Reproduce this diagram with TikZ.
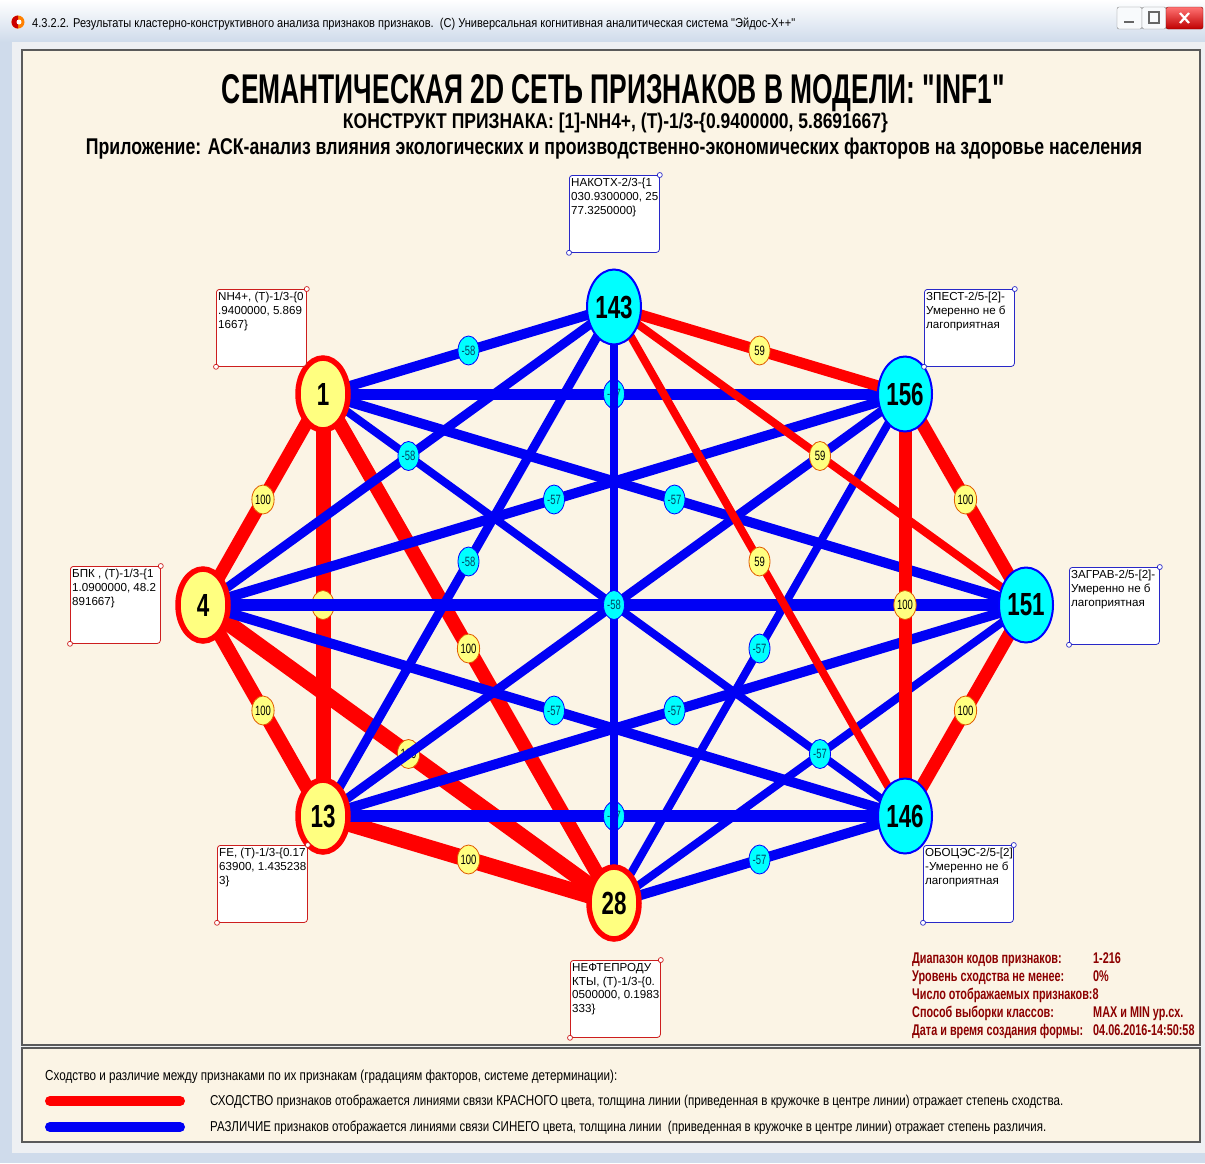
\documentclass[tikz,border=0pt]{standalone}
\usepackage{fontspec}
\setmainfont{Liberation Sans}
\newfontfamily\cond{Liberation Sans}[FakeStretch=0.7]
\usetikzlibrary{shapes.geometric}
\pgfdeclarelayer{bg}
\pgfdeclarelayer{edges}
\pgfsetlayers{bg,edges,main}
\definecolor{beige}{RGB}{251,244,229}
\definecolor{yfill}{RGB}{255,255,128}
\definecolor{cfill}{RGB}{0,255,255}
\definecolor{infored}{RGB}{140,0,0}
\definecolor{frameblue}{RGB}{207,219,235}
\definecolor{clientgray}{RGB}{238,240,243}
\definecolor{panelborder}{RGB}{90,90,90}
\definecolor{ylabborder}{RGB}{225,90,0}
\definecolor{clabtext}{RGB}{0,70,100}
\definecolor{boxred}{RGB}{205,30,30}
\definecolor{boxblue}{RGB}{40,40,200}
\definecolor{lineblue}{RGB}{0,0,245}
\tikzset{
  ynode/.style={ellipse, draw=red, line width=5.5pt, fill=yfill, minimum width=50pt, minimum height=72pt, inner sep=0pt, font=\fontsize{32}{32}\cond\bfseries},
  cnode/.style={ellipse, draw=blue, line width=2pt, fill=cfill, minimum width=54pt, minimum height=75pt, inner sep=0pt, font=\fontsize{32}{32}\cond\bfseries},
  ylab/.style={ellipse, draw=ylabborder, line width=0.8pt, fill=yfill, minimum width=21pt, minimum height=29pt, inner sep=0pt, font=\fontsize{13.5}{13.5}\cond, text=black},
  clab/.style={ellipse, draw=blue, line width=0.8pt, fill=cfill, minimum width=21pt, minimum height=29pt, inner sep=0pt, font=\fontsize{13.5}{13.5}\cond, text=clabtext},
  redE/.style={draw=red, line width=#1},
  blueE/.style={draw=lineblue, line width=#1},
  rbox/.style={draw=boxred, line width=0.8pt, fill=white, rounded corners=3pt, minimum width=90pt, minimum height=77pt, inner sep=0pt, anchor=north west},
  bbox/.style={draw=boxblue, line width=0.8pt, fill=white, rounded corners=3pt, minimum width=90pt, minimum height=77pt, inner sep=0pt, anchor=north west},
  boxtext/.style={anchor=north west, inner sep=0pt, align=left, font=\fontsize{11.6}{13.8}\selectfont},
  rdot/.style={draw=boxred, fill=white, line width=0.7pt},
  bdot/.style={draw=boxblue, fill=white, line width=0.7pt},
  info/.style={anchor=base west, inner sep=0pt, font=\fontsize{15.5}{18}\cond\bfseries, text=infored},
  plain/.style={inner sep=0pt}
}
\begin{document}
\begin{tikzpicture}[x=1pt,y=-1pt]
\useasboundingbox (0,0) rectangle (1205,1163);
\begin{pgfonlayer}{bg}
\fill[frameblue] (0,0) rectangle (1205,1163);
\shade[top color=white, bottom color=frameblue] (0,0) rectangle (1205,42);
\fill[clientgray] (12,42) rectangle (1205,1153);
\fill[beige] (22,50) rectangle (1200,1045);
\draw[panelborder, line width=1.5pt] (22,50) rectangle (1200,1045);
\fill[beige] (22,1048) rectangle (1200,1142);
\draw[panelborder, line width=1.5pt] (22,1048) rectangle (1200,1142);
% window icon
\fill[orange] (18,22) circle[radius=6.5pt];
\fill[red!80!black] (18,15.5) arc[start angle=90, end angle=270, radius=6.5pt] -- cycle;
\fill[white] (19,22) circle[radius=2.5pt];
% window buttons
\draw[gray, fill=white!85!frameblue, rounded corners=2pt] (1117,7) rectangle (1142,29);
\draw[gray!80!black, line width=2pt] (1124,22) -- (1134,22);
\draw[gray, fill=white!85!frameblue, rounded corners=2pt] (1142,7) rectangle (1166,29);
\draw[gray!80!black, line width=1.2pt] (1149,12) rectangle (1159,23);
\shade[top color=red!55!white, bottom color=red!75!black, rounded corners=2pt, draw=red!50!black] (1166,7) rectangle (1203,29);
\draw[white, line width=2.2pt] (1180,13) -- (1189,23) (1189,13) -- (1180,23);
\end{pgfonlayer}

\node[anchor=base west, plain] (wtitle) at (32,27) {\resizebox{763pt}{9.5pt}{\cond 4.3.2.2. Результаты кластерно-конструктивного анализа признаков признаков.\ \ (С) Универсальная когнитивная аналитическая система "Эйдос-Х++"}};

\node[anchor=base, plain] (title) at (613.5,103) {\resizebox{783pt}{29pt}{\cond\bfseries СЕМАНТИЧЕСКАЯ 2D СЕТЬ ПРИЗНАКОВ В МОДЕЛИ: "INF1"}};
\node[anchor=base, plain] (sub1) at (615.5,128) {\resizebox{545pt}{15.5pt}{\cond\bfseries КОНСТРУКТ ПРИЗНАКА: [1]-NH4+, (T)-1/3-\{0.9400000, 5.8691667\}}};
\node[anchor=base, plain] (sub2) at (614,154) {\resizebox{1056pt}{16.5pt}{\cond\bfseries Приложение: АСК-анализ влияния экологических и производственно-экономических факторов на здоровье населения}};

% main nodes
\node[ynode] (n1) at (323,394) {1};
\node[cnode] (n143) at (614,307) {143};
\node[cnode] (n156) at (905,394) {156};
\node[cnode] (n151) at (1026,605) {151};
\node[cnode] (n146) at (905,816) {146};
\node[ynode] (n28) at (614,903) {28};
\node[ynode] (n13) at (323,816) {13};
\node[ynode] (n4) at (203,605) {4};

% label boxes
\node[rbox] (b1) at (216,289) {};
\node[boxtext] (t1) at ([xshift=2pt,yshift=-3pt]b1.north west) {NH4+, (T)-1/3-\{0\\.9400000, 5.869\\1667\}};
\draw[rdot] (b1.north east) circle[radius=2.5pt] (b1.south west) circle[radius=2.5pt];

\node[bbox] (b143) at (569,175) {};
\node[boxtext] (t143) at ([xshift=2pt,yshift=-3pt]b143.north west) {НАКОТХ-2/3-\{1\\030.9300000, 25\\77.3250000\}};
\draw[bdot] (b143.north east) circle[radius=2.5pt] (b143.south west) circle[radius=2.5pt];

\node[bbox] (b156) at (924,289) {};
\node[boxtext] (t156) at ([xshift=2pt,yshift=-3pt]b156.north west) {ЗПЕСТ-2/5-[2]-\\Умеренно не б\\лагоприятная};
\draw[bdot] (b156.north east) circle[radius=2.5pt] (b156.south west) circle[radius=2.5pt];

\node[rbox] (b4) at (70,566) {};
\node[boxtext] (t4) at ([xshift=2pt,yshift=-3pt]b4.north west) {БПК , (T)-1/3-\{1\\1.0900000, 48.2\\891667\}};
\draw[rdot] (b4.north east) circle[radius=2.5pt] (b4.south west) circle[radius=2.5pt];

\node[bbox] (b151) at (1069,567) {};
\node[boxtext] (t151) at ([xshift=2pt,yshift=-3pt]b151.north west) {ЗАГРАВ-2/5-[2]-\\Умеренно не б\\лагоприятная};
\draw[bdot] (b151.north east) circle[radius=2.5pt] (b151.south west) circle[radius=2.5pt];

\node[rbox] (b13) at (217,845) {};
\node[boxtext] (t13) at ([xshift=2pt,yshift=-3pt]b13.north west) {FE, (T)-1/3-\{0.17\\63900, 1.435238\\3\}};
\draw[rdot] (b13.north east) circle[radius=2.5pt] (b13.south west) circle[radius=2.5pt];

\node[bbox] (b146) at (923,845) {};
\node[boxtext] (t146) at ([xshift=2pt,yshift=-3pt]b146.north west) {ОБОЦЭС-2/5-[2]\\-Умеренно не б\\лагоприятная};
\draw[bdot] (b146.north east) circle[radius=2.5pt] (b146.south west) circle[radius=2.5pt];

\node[rbox] (b28) at (570,960) {};
\node[boxtext] (t28) at ([xshift=2pt,yshift=-3pt]b28.north west) {НЕФТЕПРОДУ\\КТЫ, (T)-1/3-\{0.\\0500000, 0.1983\\333\}};
\draw[rdot] (b28.north east) circle[radius=2.5pt] (b28.south west) circle[radius=2.5pt];

% edges
\begin{pgfonlayer}{edges}
\draw[redE=13pt] (n1.center) -- node[ylab] (e1) {100} (n4.center);
\draw[redE=15pt] (n1.center) -- node[ylab] (e2) {100} (n13.center);
\draw[redE=14pt] (n1.center) -- node[ylab] (e3) {100} (n28.center);
\draw[blueE=10pt] (n1.center) -- node[clab] (e4) {-58} (n143.center);
\draw[blueE=8pt] (n1.center) -- (n146.center);
\draw[blueE=10pt] (n1.center) -- node[clab] (e6) {-57} (n151.center);
\draw[blueE=11pt] (n1.center) -- node[clab] (e7) {-57} (n156.center);
\draw[redE=14pt] (n4.center) -- node[ylab] (e8) {100} (n13.center);
\draw[redE=16pt] (n4.center) -- node[ylab] (e9) {100} (n28.center);
\draw[blueE=9pt] (n4.center) -- node[clab] (e10) {-58} (n143.center);
\draw[blueE=10pt] (n4.center) -- node[clab] (e11) {-57} (n146.center);
\draw[blueE=12pt] (n4.center) -- (n151.center);
\draw[blueE=10pt] (n4.center) -- node[clab] (e13) {-57} (n156.center);
\draw[redE=16pt] (n13.center) -- node[ylab] (e14) {100} (n28.center);
\draw[blueE=9pt] (n13.center) -- node[clab] (e15) {-58} (n143.center);
\draw[blueE=12pt] (n13.center) -- node[clab] (e16) {-57} (n146.center);
\draw[blueE=10pt] (n13.center) -- node[clab] (e17) {-57} (n151.center);
\draw[blueE=9pt] (n13.center) -- (n156.center);
\draw[blueE=8pt] (n28.center) -- node[clab] (e19) {-58} (n143.center);
\draw[blueE=10pt] (n28.center) -- node[clab] (e20) {-57} (n146.center);
\draw[blueE=8pt] (n28.center) -- node[clab] (e21) {-57} (n151.center);
\draw[blueE=8pt] (n28.center) -- node[clab] (e22) {-57} (n156.center);
\draw[redE=8pt] (n143.center) -- node[ylab] (e23) {59} (n146.center);
\draw[redE=8pt] (n143.center) -- node[ylab] (e24) {59} (n151.center);
\draw[redE=11pt] (n143.center) -- node[ylab] (e25) {59} (n156.center);
\draw[redE=13pt] (n146.center) -- node[ylab] (e26) {100} (n151.center);
\draw[redE=13pt] (n146.center) -- node[ylab] (e27) {100} (n156.center);
\draw[redE=13pt] (n151.center) -- node[ylab] (e28) {100} (n156.center);
\end{pgfonlayer}

% info block
\node[info] (i1) at (912,963) {Диапазон кодов признаков:};
\node[info] (v1) at (1093,963) {1-216};
\node[info] (i2) at (912,981) {Уровень сходства не менее:};
\node[info] (v2) at (1093,981) {0\%};
\node[info] (i3) at (912,999) {Число отображаемых признаков:8};
\node[info] (i4) at (912,1017) {Способ выборки классов:};
\node[info] (v4) at (1093,1017) {MAX и MIN ур.сх.};
\node[info] (i5) at (912,1035) {Дата и время создания формы:};
\node[info] (v5) at (1093,1035) {04.06.2016-14:50:58};

% legend
\node[anchor=base west, plain] (lg0) at (45,1080) {\resizebox{572pt}{10.5pt}{\cond Сходство и различие между признаками по их признакам (градациям факторов, системе детерминации):}};
\coordinate (lr1) at (50,1101);
\coordinate (lr2) at (180,1101);
\coordinate (lb1) at (50,1127);
\coordinate (lb2) at (180,1127);
\draw[red, line width=10pt, line cap=round] (lr1) -- (lr2);
\draw[lineblue, line width=10pt, line cap=round] (lb1) -- (lb2);
\node[anchor=base west, plain] (lg1) at (210,1105) {\resizebox{853pt}{10.5pt}{\cond СХОДСТВО признаков отображается линиями связи КРАСНОГО цвета, толщина линии (приведенная в кружочке в центре линии) отражает степень сходства.}};
\node[anchor=base west, plain] (lg2) at (210,1131) {\resizebox{836pt}{10.5pt}{\cond РАЗЛИЧИЕ признаков отображается линиями связи СИНЕГО цвета, толщина линии\ \ (приведенная в кружочке в центре линии) отражает степень различия.}};
\end{tikzpicture}
\end{document}
